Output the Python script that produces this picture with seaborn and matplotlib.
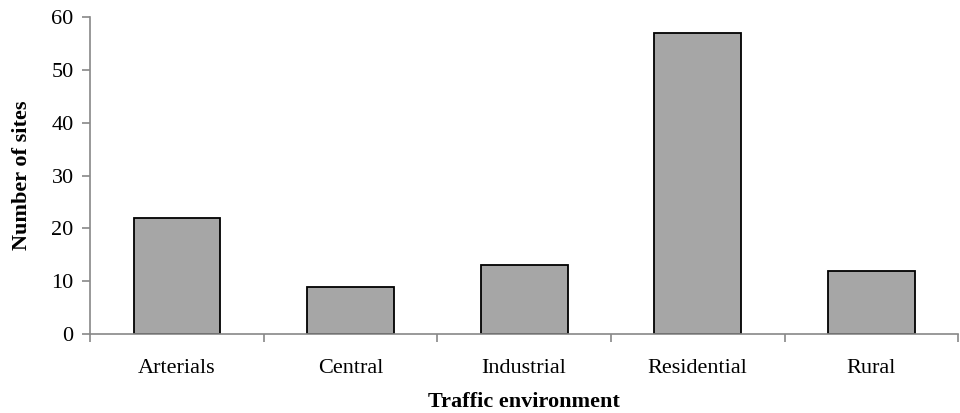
import matplotlib
matplotlib.use("Agg")
import matplotlib.pyplot as plt
import seaborn as sns
import pandas as pd
import numpy as np

environments = ["Arterials", "Central", "Industrial", "Residential", "Rural"]
site_counts = [22, 9, 13, 57, 12]

sns.set_style("white")
plt.rcParams['font.family'] = ['Liberation Serif', 'DejaVu Serif']
plt.rcParams['font.size'] = 16
plt.rcParams['text.color'] = 'black'
plt.rcParams['axes.labelcolor'] = 'black'
plt.rcParams['xtick.color'] = 'black'
plt.rcParams['ytick.color'] = 'black'

df = pd.DataFrame({"Traffic environment": environments, "Number of sites": site_counts})

fig = plt.figure(figsize=(9.6, 4.13), dpi=100)
ax = fig.add_axes([0.094, 0.191, 0.904, 0.768])
sns.barplot(data=df, x="Traffic environment", y="Number of sites", color="#A6A6A6",
            edgecolor="black", linewidth=1.3, width=0.5, saturation=1, ax=ax)

n = len(environments)
ax.set_xlim(-0.5, n - 0.5)
ax.set_ylim(0, 60)
ax.set_yticks(range(0, 61, 10))

# tick marks at category boundaries, labels centred under bars
ax.set_xticks(np.arange(n + 1) - 0.5)
ax.set_xticklabels([])
ax.set_xticks(range(n), minor=True)
ax.set_xticklabels(environments, minor=True)
ax.tick_params(axis="x", which="major", bottom=True, direction="out", length=6, width=1.2, color="#888888")
ax.tick_params(axis="x", which="minor", bottom=True, length=0, pad=18, labelsize=16, labelcolor="black")
ax.tick_params(axis="y", left=True, direction="out", length=6, width=1.2, color="#888888", pad=6,
               labelsize=16, labelcolor="black")

for side in ["top", "right"]:
    ax.spines[side].set_visible(False)
for side in ["left", "bottom"]:
    ax.spines[side].set_color("#888888")
    ax.spines[side].set_linewidth(1.2)

ax.set_xlabel("Traffic environment", fontweight="bold", fontsize=16, labelpad=10, color="black")
ax.set_ylabel("Number of sites", fontweight="bold", fontsize=16, labelpad=14, color="black")

fig.savefig("out.png", dpi=100)
